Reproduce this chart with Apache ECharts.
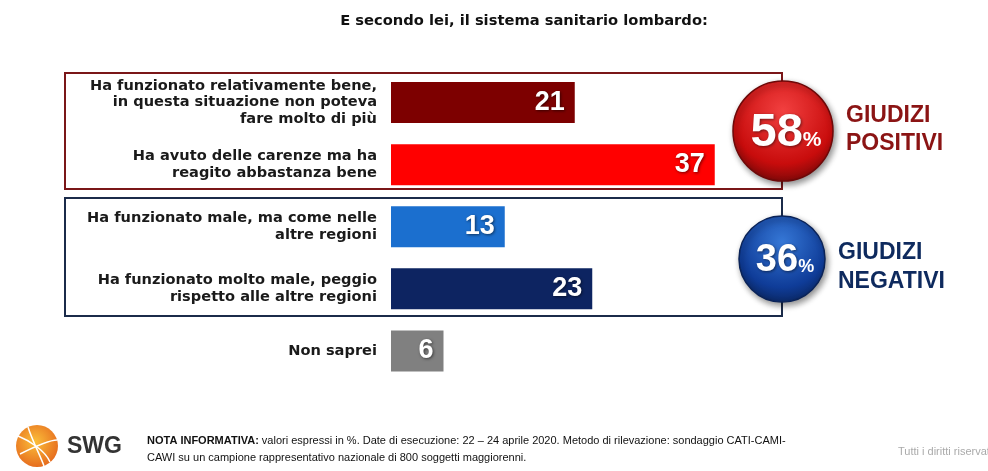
<!DOCTYPE html>
<html><head><meta charset="utf-8">
<script src="https://cdn.jsdelivr.net/npm/echarts@6/dist/echarts.min.js"></script>
<style>html,body{margin:0;padding:0;background:#fff}#c{width:988px;height:471px}</style>
</head><body><div id="c"></div>
<script>
var title = 'E secondo lei, il sistema sanitario lombardo:';
var categories = [
  'Ha funzionato relativamente bene,\nin questa situazione non poteva\nfare molto di più',
  'Ha avuto delle carenze ma ha\nreagito abbastanza bene',
  'Ha funzionato male, ma come nelle\naltre regioni',
  'Ha funzionato molto male, peggio\nrispetto alle altre regioni',
  'Non saprei'
];
var values = [21, 37, 13, 23, 6];
var groupTotals = [58, 36];
var groupNames = ['GIUDIZI\nPOSITIVI', 'GIUDIZI\nNEGATIVI'];
var noteBold = 'NOTA INFORMATIVA:';
var noteText = ' valori espressi in %. Date di esecuzione: 22 \u2013 24 aprile 2020. Metodo di rilevazione: sondaggio CATI-CAMI-';
var noteText2 = 'CAWI su un campione rappresentativo nazionale di 800 soggetti maggiorenni.';
var rights = 'Tutti i diritti riservati';

var barColors = ['#7d0000', '#ff0000', '#1b6fcf', '#0d2461', '#808080'];
var FONT = 'Liberation Sans, Arial, sans-serif';
var WIDE = 'DejaVu Sans, Liberation Sans, Arial, sans-serif';

var chart = echarts.init(document.getElementById('c'), null, {renderer: 'canvas'});

function circleGroup(cx, cy, r, light, dark, edge, num, numSize, pctSize) {
  return {
    type: 'group', children: [
      {type: 'circle', shape: {cx: cx, cy: cy, r: r},
        style: {fill: {type: 'radial', x: 0.5, y: 0.3, r: 0.75,
          colorStops: [{offset: 0, color: light}, {offset: 0.7, color: dark}, {offset: 1, color: edge}]},
          stroke: edge, lineWidth: 1.5, shadowBlur: 6, shadowColor: 'rgba(0,0,0,0.45)', shadowOffsetX: 2, shadowOffsetY: 3}, z: 10},
      {type: 'text', x: cx + 3, y: cy + 2, z: 11,
        style: {text: '{n|' + num + '}{p|%}', align: 'center', verticalAlign: 'middle',
          rich: {n: {fontSize: numSize, fontWeight: 'bold', fill: '#fff', fontFamily: FONT, textShadowColor: 'rgba(0,0,0,0.5)', textShadowBlur: 3, textShadowOffsetX: 1, textShadowOffsetY: 1},
                 p: {fontSize: pctSize, fontWeight: 'bold', fill: '#fff', fontFamily: FONT, padding: [numSize * 0.3, 0, 0, 0]}}}}
    ]
  };
}

var option = {
  animation: false,
  title: {text: title, left: 519, textAlign: 'center', top: 9,
    textStyle: {fontSize: 14.7, fontWeight: 'bold', color: '#111', fontFamily: WIDE}},
  grid: {left: 391, top: 71.5, width: 350, height: 310.5, containLabel: false},
  xAxis: {type: 'value', min: 0, max: 40, show: false},
  yAxis: {type: 'category', data: categories, inverse: true,
    axisLine: {show: false}, axisTick: {show: false}, splitLine: {show: false},
    axisLabel: {margin: 14, align: 'right', fontSize: 14.6, fontWeight: 'bold', color: '#1a1a1a', lineHeight: 16.5, fontFamily: WIDE}},
  series: [{
    type: 'bar', barWidth: 41,
    data: values.map(function (v, i) { return {value: v, itemStyle: {color: barColors[i]}}; }),
    label: {show: true, position: 'insideRight', distance: 10, color: '#fff', fontSize: 27, fontWeight: 'bold', fontFamily: FONT,
      textShadowColor: 'rgba(0,0,0,0.55)', textShadowBlur: 3, textShadowOffsetX: 1, textShadowOffsetY: 1}
  }],
  graphic: [
    {type: 'rect', shape: {x: 65, y: 73, width: 717, height: 116}, style: {fill: 'none', stroke: '#7a1618', lineWidth: 2}, z: 1},
    {type: 'rect', shape: {x: 65, y: 198, width: 717, height: 118}, style: {fill: 'none', stroke: '#1b2b4a', lineWidth: 2}, z: 1},
    circleGroup(783, 131, 50, '#f24040', '#c80c0c', '#6e0808', groupTotals[0], 47, 21),
    circleGroup(782, 259, 43, '#3577d6', '#0f3c98', '#0a2358', groupTotals[1], 38, 18),
    {type: 'text', x: 846, y: 130, z: 11, style: {text: groupNames[0], fill: '#8b1414', fontSize: 23, fontWeight: 'bold', fontFamily: FONT, lineHeight: 28, verticalAlign: 'middle'}},
    {type: 'text', x: 838, y: 267, z: 11, style: {text: groupNames[1], fill: '#0e2a5e', fontSize: 23, fontWeight: 'bold', fontFamily: FONT, lineHeight: 29, verticalAlign: 'middle'}},
    // logo
    {type: 'circle', shape: {cx: 37, cy: 446, r: 21}, style: {fill: {type: 'radial', x: 0.45, y: 0.4, r: 0.7,
      colorStops: [{offset: 0, color: '#fbbf3a'}, {offset: 1, color: '#e3601a'}]}}},
    {type: 'bezierCurve', shape: {x1: 18, y1: 436, x2: 50, y2: 462, cpx1: 28, cpy1: 440, cpx2: 45, cpy2: 450}, style: {stroke: '#fff', lineWidth: 1.5, fill: 'none'}},
    {type: 'bezierCurve', shape: {x1: 20, y1: 454, x2: 57, y2: 440, cpx1: 32, cpy1: 448, cpx2: 48, cpy2: 440}, style: {stroke: '#fff', lineWidth: 1.5, fill: 'none'}},
    {type: 'bezierCurve', shape: {x1: 28, y1: 427, x2: 44, y2: 466, cpx1: 32, cpy1: 440, cpx2: 40, cpy2: 455}, style: {stroke: '#fff', lineWidth: 1.5, fill: 'none'}},
    {type: 'text', x: 67, y: 447, style: {text: 'SWG', fill: '#333', fontSize: 23, fontWeight: 'bold', fontFamily: FONT, verticalAlign: 'middle'}},
    {type: 'text', x: 147, y: 441, style: {text: '{b|' + noteBold + '}' + noteText, fill: '#111', fontSize: 11, fontFamily: FONT, verticalAlign: 'middle',
      rich: {b: {fontWeight: 'bold', fontSize: 11, fontFamily: FONT, fill: '#111'}}}},
    {type: 'text', x: 147, y: 458, style: {text: noteText2, fill: '#111', fontSize: 11, fontFamily: FONT, verticalAlign: 'middle'}},
    {type: 'text', x: 898, y: 452, style: {text: rights, fill: '#aaa', fontSize: 11, fontFamily: FONT, verticalAlign: 'middle'}}
  ]
};
chart.setOption(option);
</script></body></html>
